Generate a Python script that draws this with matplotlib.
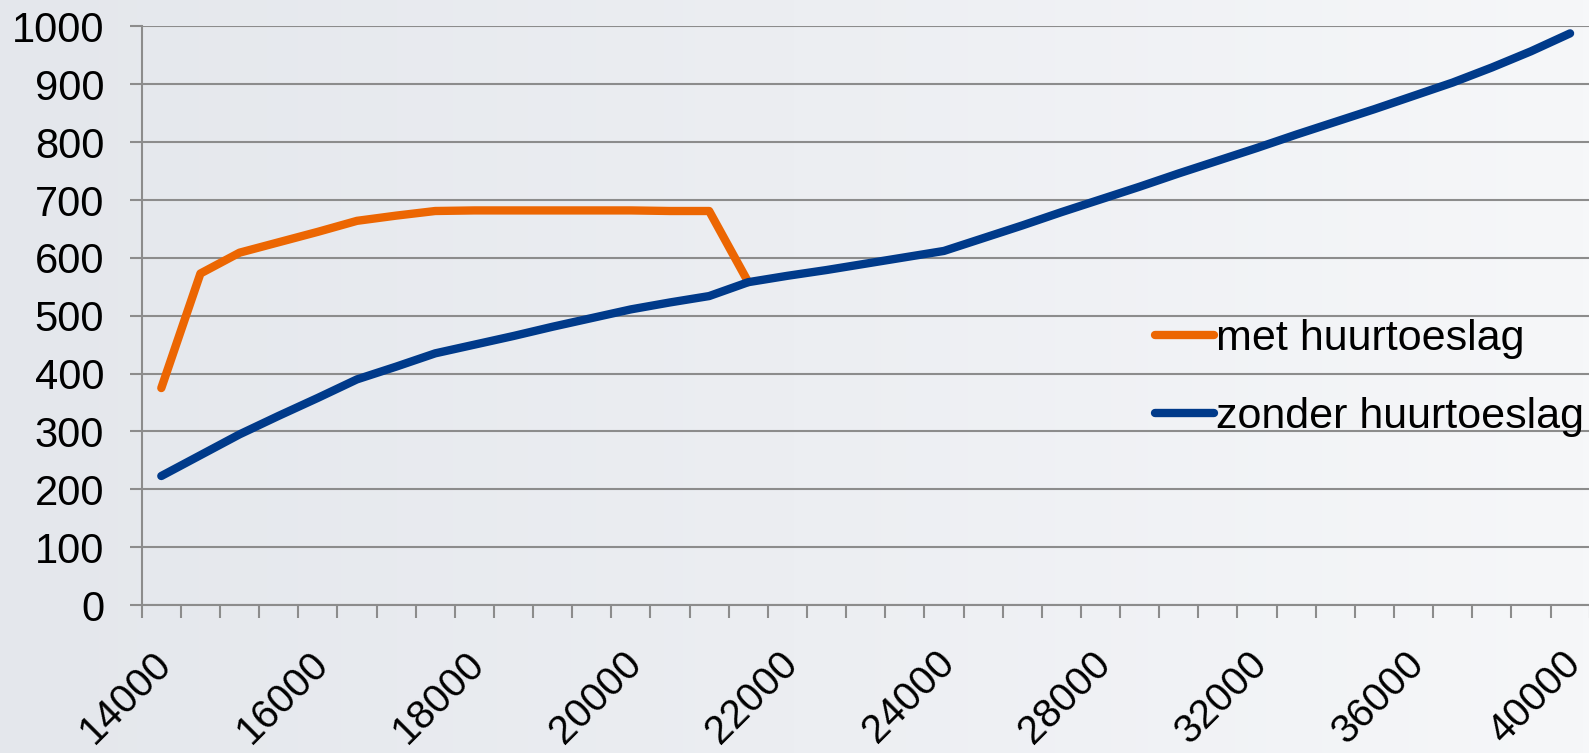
import matplotlib
matplotlib.use("Agg")
import matplotlib.pyplot as plt
import matplotlib.transforms as mtransforms
import numpy as np

plt.rcParams["font.family"] = ["Liberation Sans", "DejaVu Sans"]

INKOMEN = [
    14000, 14500, 15000, 15500, 16000, 16500, 17000, 17500, 18000, 18500,
    19000, 19500, 20000, 20500, 21000, 21500, 22000, 22500, 23000, 23500,
    24000, 25000, 26000, 27000, 28000, 29000, 30000, 31000, 32000, 33000,
    34000, 35000, 36000, 37000, 38000, 39000, 40000,
]
MET_HUURTOESLAG = [
    375, 573, 609, 627, 645, 664, 673, 681, 682, 682,
    682, 682, 682, 681, 681, 558,
]
ZONDER_HUURTOESLAG = [
    223, 259, 295, 327, 358, 390, 412, 435, 450, 465,
    481, 496, 511, 523, 534, 558, 569, 579, 590, 601,
    612, 634, 656, 679, 701, 723, 746, 768, 790, 813,
    835, 857, 880, 903, 929, 957, 988,
]
Y_TICKS = list(range(0, 1001, 100))
LABEL_EVERY = 4

ORANGE = "#ec6602"
BLUE = "#003a8a"
GRID = "#8c8c8c"

fig = plt.figure(figsize=(15.89, 7.53), dpi=100)

# soft background in place of the photo
bg = fig.add_axes([0, 0, 1, 1], zorder=-10)
grad = np.linspace(0, 1, 256)[None, :]
bg.imshow(grad, aspect="auto", cmap=matplotlib.colors.LinearSegmentedColormap.from_list(
    "bg", ["#e4e7ec", "#eceef2", "#f6f7f9"]), extent=[0, 1, 0, 1])
bg.axis("off")

ax = fig.add_axes([0.0892, 0.1965, 0.9112, 0.7684])
ax.patch.set_alpha(0)

x = np.arange(len(INKOMEN))
ax.plot(x[:len(MET_HUURTOESLAG)], MET_HUURTOESLAG, color=ORANGE, lw=6,
        solid_capstyle="round", label="met huurtoeslag", zorder=3)
ax.plot(x, ZONDER_HUURTOESLAG, color=BLUE, lw=6,
        solid_capstyle="round", label="zonder huurtoeslag", zorder=3)

ax.set_xlim(-0.5, len(INKOMEN) - 0.5)
ax.set_ylim(0, 1000)
ax.set_yticks(Y_TICKS)
ax.yaxis.grid(True, color=GRID, lw=1.5)
ax.set_axisbelow(True)

ax.set_xticks(x[::LABEL_EVERY], [str(v) for v in INKOMEN[::LABEL_EVERY]])
ax.set_xticks(np.arange(-0.5, len(INKOMEN)), minor=True)
ax.tick_params(axis="x", which="major", length=0, pad=28, labelsize=29)
ax.tick_params(axis="x", which="minor", length=9, width=1.5, color=GRID)
ax.tick_params(axis="y", length=9, width=1.5, color=GRID, pad=18, labelsize=30)
shift = mtransforms.ScaledTranslation(-9 / 100, 0, fig.dpi_scale_trans)
for lab in ax.get_xticklabels():
    lab.set_rotation(45)
    lab.set_ha("right")
    lab.set_va("top")
    lab.set_rotation_mode("anchor")
    lab.set_transform(lab.get_transform() + shift)

for side in ("top", "right"):
    ax.spines[side].set_visible(False)
for side in ("left", "bottom"):
    ax.spines[side].set_color(GRID)
    ax.spines[side].set_linewidth(1.5)

ax.legend(loc="center left", bbox_to_anchor=(1155 / 1589, 1 - 378 / 753),
          bbox_transform=fig.transFigure, frameon=False, fontsize=31,
          handlelength=1.37, handletextpad=0.05, labelspacing=0.9,
          borderpad=0, borderaxespad=0)

fig.savefig("out.png", dpi=100)
